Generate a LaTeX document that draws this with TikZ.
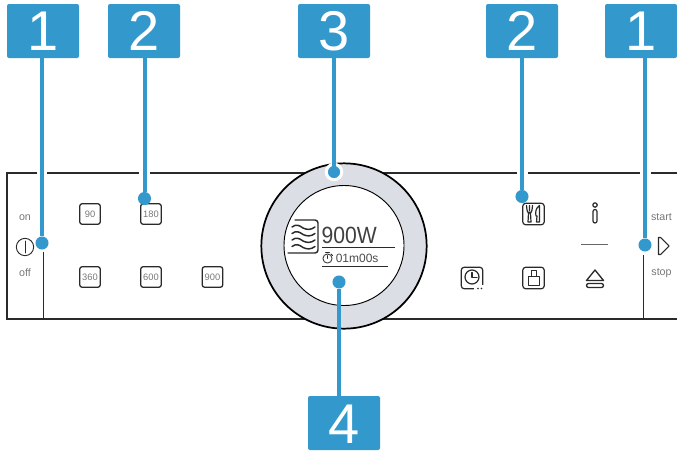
\documentclass[tikz,border=0pt]{standalone}
\usepackage{fontspec}
\setmainfont{Liberation Sans}
\definecolor{callblue}{HTML}{3399CC}
\definecolor{ringgrey}{HTML}{DCDEE5}
\definecolor{panelink}{HTML}{2A2A2A}
\definecolor{softtext}{HTML}{777777}
\tikzset{
  callout/.style={fill=callblue,rounded corners=1.5pt,minimum width=54pt,minimum height=40.5pt,inner sep=0pt,text=white,font=\fontsize{42}{42}\selectfont},
  tipdot/.style={circle,fill=callblue,minimum size=9.8pt,inner sep=0pt},
  leader/.style={draw=callblue,line width=3pt},
  panel/.style={draw=panelink,line width=1.5pt},
  hair/.style={draw=panelink,line width=0.8pt},
  softbtn/.style={draw=panelink,line width=0.95pt,rounded corners=2pt,minimum size=15.5pt,inner sep=0pt,text=softtext,font=\fontsize{7}{7}\selectfont},
  caption/.style={inner sep=0pt,text=softtext,font=\fontsize{8}{8}\selectfont},
  icon/.style={draw=panelink,line width=0.8pt,line join=round,line cap=round}
}
\begin{document}
\begin{tikzpicture}[x=0.75pt,y=-0.75pt]
\useasboundingbox (0,0) rectangle (677,450);
% panel
\coordinate (tl) at (7,173); \coordinate (bl) at (7,319); \coordinate (br) at (677,319);
\coordinate (g1a) at (37,173); \coordinate (g1b) at (47,173);
\coordinate (g2a) at (139,173); \coordinate (g2b) at (150,173);
\coordinate (g3a) at (517,173); \coordinate (g3b) at (528,173);
\coordinate (g4a) at (640,173); \coordinate (g4b) at (651,173);
\coordinate (tr) at (677,173);
\draw[panel] (g1a) -- (tl) -- (bl) -- (br);
\draw[panel] (g1b) -- (g2a) (g2b) -- (g3a) (g3b) -- (g4a) (g4b) -- (tr);
\coordinate (vl1) at (43.5,252); \coordinate (vl2) at (43.5,319);
\coordinate (vr1) at (643.5,255); \coordinate (vr2) at (643.5,319);
\draw[hair] (vl1) -- (vl2);
\draw[hair] (vr1) -- (vr2);
% dial
\node[circle,draw=black,line width=1.3pt,fill=ringgrey,minimum size=124pt,inner sep=0pt] (ring) at (344,246) {};
\node[circle,draw=black,line width=0.7pt,fill=white,minimum size=90pt,inner sep=0pt] (face) at (344,245.5) {};
% display
\draw[icon,line width=1.1pt] (295,220) -- (315,220) to[out=0,in=90] (318,223) -- (318,250) to[out=-90,in=0] (315,253) -- (288,253);
\foreach \yy in {228,234.5,241,247.5}{
  \draw[icon,line width=1.1pt] (292,\yy-1) .. controls (296,\yy-4) and (299,\yy-3) .. (303,\yy) .. controls (307,\yy+2) and (311,\yy+2) .. (315,\yy-1);
}
\node[anchor=base west,inner sep=0pt,text=black!75,xscale=0.9,font=\fontsize{17.6}{18}\selectfont] (watt) at (321.5,243) {900W};
\node[anchor=base west,inner sep=0pt,text=black!70,font=\fontsize{9}{10}\selectfont] (time) at (335.5,262.7) {01m00s};
\draw[hair,line width=0.7pt] (322,247.7) -- (394.5,247.7);
\draw[hair,line width=0.7pt] (322,266.2) -- (388,266.2);
\draw[icon,line width=0.6pt] (327.5,258.5) circle (4.6);
\draw[icon,line width=0.6pt] (327.5,258.5) -- (327.5,255.5) (325.5,252.5) -- (329.5,252.5) (331,254) -- (332.5,255.5);
% soft buttons
\node[softbtn] (b90) at (90,214) {90};
\node[softbtn] (b180) at (151,214) {180};
\node[softbtn] (b360) at (90,277) {360};
\node[softbtn] (b600) at (151,277) {600};
\node[softbtn] (b900) at (212.5,277) {900};
% captions
\node[caption] (on) at (25,218) {on};
\node[caption] (off) at (25,273) {off};
\node[caption] (start) at (661.5,217.5) {start};
\node[caption] (stop) at (661.5,273.5) {stop};
% power
\node[circle,draw=panelink,line width=0.7pt,minimum size=13pt,inner sep=0pt] (power) at (25,247) {};
\draw[icon,line width=0.6pt] (25,241) -- (25,253);
% play
\draw[icon,line width=0.8pt] (658.5,237.5) -- (660.5,237.5) -- (669,246) -- (660.5,254.5) -- (658.5,254.5) -- cycle;
% cutlery
\node[draw=panelink,line width=0.9pt,rounded corners=2pt,minimum size=16pt,inner sep=0pt] (food) at (533.5,214) {};
\draw[icon,line width=0.9pt] (526.5,205.5) -- (527,210) to[out=-90,in=180] (529.5,213) to[out=0,in=-90] (532,210) -- (532.5,205.5) (529.5,205.5) -- (529.5,211);
\draw[icon,line width=0.9pt] (528.5,213) -- (528,222) -- (531,222) -- (530.5,213);
\draw[icon,line width=0.9pt] (539.5,205.5) .. controls (536,208) and (535,212) .. (536,216) -- (537,216) -- (536.5,222) -- (539.5,222) -- cycle;
% info
\draw[icon,line width=0.9pt] (595,205) circle (2.2);
\draw[icon,line width=0.9pt,rounded corners=1.5pt] (593,209.5) rectangle (597,223);
% separator
\coordinate (sepa) at (581,244.5); \coordinate (sepb) at (608,244.5);
\draw[draw=black!60,line width=0.6pt] (sepa) -- (sepb);
% clock
\node[draw=panelink,line width=0.9pt,rounded corners=2pt,minimum size=16pt,inner sep=0pt] (clock) at (472,278) {};
\fill[white] (474,285) rectangle (484,290);
\draw[icon,line width=0.9pt] (472,277) circle (7);
\draw[icon] (472,272.5) -- (472,277.5) -- (477,277.5);
\fill[panelink] (478,288.5) circle (0.9) (481.5,288.5) circle (0.9);
% weight
\node[draw=panelink,line width=0.9pt,rounded corners=2pt,minimum size=16pt,inner sep=0pt] (weight) at (533.5,278) {};
\draw[icon,line width=0.7pt] (531,276.5) -- (531,270.5) -- (536.5,270.5) -- (536.5,276.5);
\draw[icon,line width=0.7pt] (528,276.5) rectangle (539,285.5);
% eject
\draw[icon,line width=1pt] (595,270) -- (586.5,280.5) -- (603.5,280.5) -- cycle;
\draw[icon,line width=1pt,rounded corners=1.5pt] (586.5,283.5) rectangle (603.5,287.5);
% callouts
\node[callout] (c1a) at (43,31) {1};
\node[callout] (c2a) at (144,31) {2};
\node[callout] (c3) at (334,31) {3};
\node[callout,text depth=0pt,text height=30pt] (c4) at (344,423) {4};
\node[callout] (c2b) at (522,31) {2};
\node[callout] (c1b) at (641,31) {1};
\node[tipdot] (d1a) at (42,243) {};
\node[tipdot] (d2a) at (144.5,198.5) {};
\node[tipdot,draw=white,line width=2.25pt,minimum size=11.6pt] (d3) at (334,172) {};
\node[tipdot] (d4) at (339,282) {};
\node[tipdot] (d2b) at (522,196.5) {};
\node[tipdot] (d1b) at (645,245) {};
\draw[leader] (c1a.south -| d1a) -- (d1a);
\draw[leader] (c2a.south -| d2a) -- (d2a);
\draw[leader] (c3.south -| d3) -- (d3.center);
\draw[leader] (c4.north -| d4) -- (d4);
\draw[leader] (c2b.south -| d2b) -- (d2b);
\draw[leader] (c1b.south -| d1b) -- (d1b);
\end{tikzpicture}
\end{document}
